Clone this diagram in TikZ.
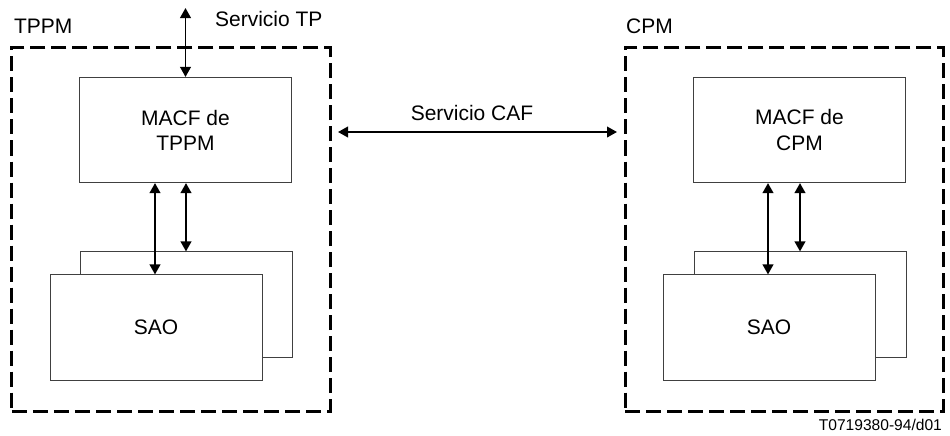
\documentclass[tikz,border=0pt]{standalone}
\usepackage{fontspec}
\setmainfont{Liberation Sans}
\usetikzlibrary{arrows.meta, positioning, calc}
\definecolor{BoxGray}{rgb}{0.25, 0.25, 0.25}

\begin{document}
\begin{tikzpicture}[x=0.3mm, y=-0.3mm,
    font=\fontsize{17.9}{21.5}\selectfont,
    caja/.style={draw=BoxGray, line width=0.7pt, fill=white, minimum width=63.6mm, minimum height=31.6mm, inner sep=0pt, align=center},
    marco/.style={draw=black, line width=0.9mm, dash pattern=on 4.5mm off 1.8mm, minimum width=95.4mm, minimum height=109mm, inner sep=0pt},
    flecha/.style={{Triangle[length=3mm, width=3.2mm]}-{Triangle[length=3mm, width=3.2mm]}, line width=0.55mm}]

\useasboundingbox (0,0) rectangle (950,435);

% marcos
\node[marco] (tppm) at (171,229.5) {};
\node[marco] (cpm) at (784,229.5) {};
\node[anchor=base west] (tppmlbl) at (10,33) {TPPM};
\node[anchor=base west] (cpmlbl) at (622,33) {CPM};

% lado TPPM
\node[caja] (macfa) at (185.5,130) {MACF de\\TPPM};
\node[caja] (saoba) at (186,304.5) {};
\node[caja] (saoa) at (156,327.5) {SAO};
\coordinate (tptop) at (185.5,8);
\draw[flecha] (tptop) -- (macfa.north);
\node[anchor=west] (tplbl) at (211,19) {Servicio TP};
\draw[flecha] (macfa.south -| 155,0) -- (saoa.north -| 155,0);
\draw[flecha] (macfa.south -| 186,0) -- (saoba.north -| 186,0);

% lado CPM
\node[caja] (macfb) at (799.5,130) {MACF de\\CPM};
\node[caja] (saobb) at (800,304.5) {};
\node[caja] (saob) at (769,327.5) {SAO};
\draw[flecha] (macfb.south -| 768,0) -- (saob.north -| 768,0);
\draw[flecha] (macfb.south -| 800,0) -- (saobb.north -| 800,0);

% servicio CAF
\coordinate (cafa) at (338,132);
\coordinate (cafb) at (617,132);
\draw[flecha] (cafa) -- (cafb);
\node (caflbl) at (472,113) {Servicio CAF};

\node[anchor=east, font=\fontsize{13.3}{16}\selectfont] (ref) at (946,425) {T0719380-94/d01};

\end{tikzpicture}
\end{document}
